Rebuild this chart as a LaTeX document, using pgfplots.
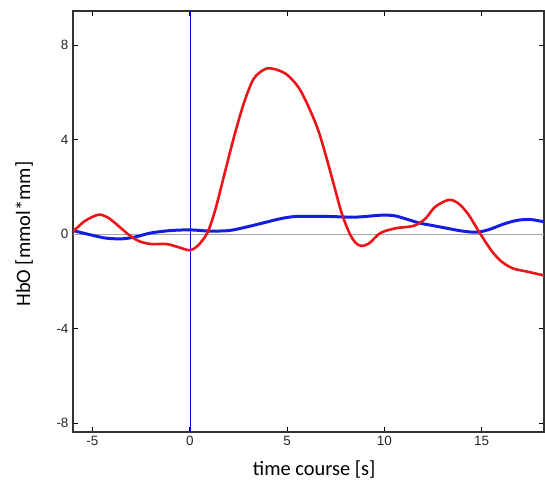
\documentclass[border=0pt]{standalone}
\usepackage{pgfplots}
\pgfplotsset{compat=1.18}
\usepackage{fontspec}
\setmainfont{Carlito}
\newfontfamily\tickfont{Liberation Sans}
\definecolor{cred}{RGB}{235,20,25}
\definecolor{cblue}{RGB}{20,30,225}
\definecolor{cgray}{RGB}{165,165,165}
\begin{document}
\begin{tikzpicture}
\begin{axis}[
  scale only axis,
  width=471bp, height=421bp,
  xmin=-6, xmax=18.2,
  ymin=-8.38, ymax=9.45,
  xtick={-5,0,5,10,15},
  ytick={-8,-4,0,4,8},
  tick align=inside,
  major tick length=5bp,
  tick style={black, line width=0.8pt},
  axis line style={black!80, line width=1.1pt},
  ticklabel style={font=\tickfont\fontsize{13.5}{15}\selectfont, text=black!85},
  /pgf/number format/assume math mode=true,
  yticklabel style={xshift=-1bp},
  xticklabel style={yshift=-1bp},
  xlabel={time course [s]},
  ylabel={HbO [mmol*mm]},
  label style={font=\fontsize{20.5}{24}\selectfont},
  xlabel style={at={(axis description cs:0.512,-0.088)}, anchor=center},
  ylabel style={at={(axis description cs:-0.104,0.47)}, anchor=center},
  clip=true,
]
\addplot[draw=cgray, line width=1.1pt] coordinates {(-6,0) (18.2,0)};
\addplot[blue!90!black, line width=1pt, sharp plot] coordinates {(0.02,-8.38) (0.02,9.45)};
\addplot[draw=cblue, line width=3pt, smooth] coordinates {
(-6,0.15) (-5,-0.05) (-4.3,-0.17) (-3.5,-0.2) (-2.8,-0.12) (-2,0.05) (-1,0.15) (0,0.18) (1,0.13) (2,0.15) (2.8,0.28) (3.75,0.47) (4.7,0.66) (5.5,0.75) (7,0.75) (8.5,0.72) (9.8,0.8) (10.5,0.78) (11.2,0.62) (11.8,0.47) (12.5,0.36) (13.2,0.25) (14,0.13) (14.75,0.08) (15.4,0.2) (16.1,0.42) (16.8,0.58) (17.5,0.62) (18.2,0.52)
};
\addplot[draw=cred, line width=2.6pt, smooth] coordinates {
(-6,0.1) (-5.4,0.55) (-4.7,0.82) (-4.2,0.7) (-3.6,0.3) (-3.1,-0.05) (-2.6,-0.3) (-2,-0.42) (-1.2,-0.42) (-0.6,-0.55) (0,-0.68) (0.4,-0.5) (0.9,0.05) (1.3,1.0) (1.8,2.6) (2.3,4.2) (2.8,5.6) (3.3,6.6) (3.9,7.0) (4.4,6.98) (5.0,6.75) (5.6,6.2) (6.1,5.4) (6.6,4.4) (7.0,3.3) (7.4,2.1) (7.8,0.9) (8.2,0.05) (8.5,-0.35) (8.8,-0.5) (9.2,-0.4) (9.8,0.05) (10.6,0.25) (11.5,0.35) (12.1,0.65) (12.6,1.15) (13.3,1.45) (13.8,1.3) (14.3,0.85) (14.9,0.05) (15.5,-0.7) (16.0,-1.15) (16.6,-1.45) (17.4,-1.6) (18.2,-1.75)
};
\end{axis}
\pgfresetboundingbox
\path ([shift={(-73bp,-54bp)}]current axis.south west) rectangle ([shift={(1bp,11bp)}]current axis.north east);
\end{tikzpicture}
\end{document}
